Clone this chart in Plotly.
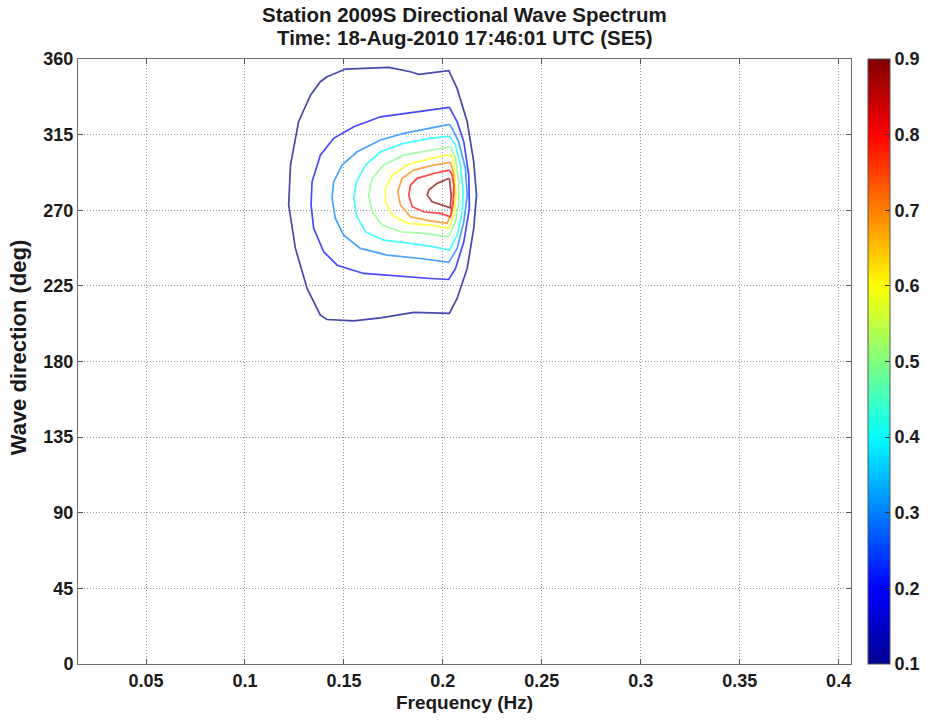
import plotly.graph_objects as go
from plotly.colors import sample_colorscale, unlabel_rgb

# ---- data (frequency in Hz, direction in deg) ----
levels = [0.1, 0.2, 0.3, 0.4, 0.5, 0.6, 0.7, 0.8, 0.9]

c1_f = [0.1415, 0.1508, 0.1727, 0.1836, 0.1878, 0.2030, 0.2072, 0.2123, 0.2156, 0.2170, 0.2156, 0.2123, 0.2072,
        0.2033, 0.1853, 0.1685, 0.1550, 0.1415, 0.1381, 0.1314, 0.1255, 0.1221, 0.1230, 0.1271, 0.1331, 0.1381]
c1_d = [349.4, 354.0, 355.0, 352.4, 350.9, 353.0, 342.5, 322.7, 298.8, 279.0, 259.2, 235.4, 217.5,
        208.6, 209.2, 206.0, 204.2, 205.0, 207.6, 223.5, 247.3, 273.1, 296.9, 322.7, 338.5, 346.5]

c2_f = [0.2033, 0.1937, 0.1802, 0.1685, 0.1550, 0.1448, 0.1381, 0.1339, 0.1334, 0.1347, 0.1398, 0.1466, 0.1600,
        0.1802, 0.1937, 0.2030, 0.2064, 0.2106, 0.2134, 0.2131, 0.2106, 0.2072]
c2_d = [331.2, 329.6, 327.7, 325.6, 319.7, 312.8, 302.8, 286.9, 273.1, 259.2, 245.3, 237.3, 232.4,
        230.4, 229.4, 228.8, 235.4, 251.2, 271.1, 290.9, 310.7, 322.7]

c3_f = [0.2033, 0.1921, 0.1802, 0.1685, 0.1567, 0.1491, 0.1448, 0.1440, 0.1457, 0.1499, 0.1583, 0.1718, 0.1887,
        0.2030, 0.2072, 0.2106, 0.2123, 0.2114, 0.2080, 0.2047]
c3_d = [321.1, 318.7, 315.7, 311.8, 304.8, 296.9, 286.9, 277.1, 265.1, 255.2, 247.3, 243.3, 241.3,
        239.0, 247.3, 263.1, 279.0, 294.9, 310.7, 318.7]

c4_f = [0.2033, 0.1937, 0.1802, 0.1685, 0.1609, 0.1563, 0.1550, 0.1563, 0.1609, 0.1701, 0.1836, 0.1954, 0.2033,
        0.2072, 0.2098, 0.2103, 0.2089, 0.2064]
c4_d = [314.1, 312.8, 309.8, 304.8, 296.9, 286.9, 277.1, 267.1, 257.2, 252.2, 250.3, 248.2, 246.3,
        255.2, 269.1, 281.0, 296.9, 308.8]

c5_f = [0.2038, 0.1937, 0.1802, 0.1701, 0.1643, 0.1625, 0.1643, 0.1693, 0.1786, 0.1903, 0.2030, 0.2064, 0.2080,
        0.2080, 0.2064]
c5_d = [307.8, 305.8, 302.8, 296.9, 289.0, 279.0, 269.1, 261.2, 257.2, 256.2, 254.2, 263.1, 275.0,
        286.9, 300.9]

c6_f = [0.2038, 0.1937, 0.1820, 0.1744, 0.1710, 0.1710, 0.1744, 0.1820, 0.1937, 0.2030, 0.2055, 0.2067, 0.2060,
        0.2052]
c6_d = [303.2, 300.9, 296.9, 290.9, 283.0, 275.0, 267.1, 262.2, 261.2, 259.2, 267.1, 279.0, 292.9, 300.9]

c7_f = [0.2038, 0.1954, 0.1853, 0.1794, 0.1772, 0.1786, 0.1836, 0.1937, 0.2022, 0.2047, 0.2059, 0.2052]
c7_d = [298.5, 296.9, 293.9, 289.0, 281.0, 273.1, 266.1, 263.7, 262.2, 269.1, 281.0, 292.9]

c8_f = [0.2033, 0.1954, 0.1870, 0.1836, 0.1828, 0.1845, 0.1903, 0.1988, 0.2038, 0.2052, 0.2055, 0.2047]
c8_d = [293.9, 291.9, 289.0, 285.0, 279.0, 272.1, 269.1, 268.1, 266.1, 275.0, 285.0, 290.9]

c9_f = [0.2033, 0.1971, 0.1929, 0.1921, 0.1946, 0.1996, 0.2038, 0.2042, 0.2038]
c9_d = [289.0, 286.0, 282.0, 279.0, 275.0, 273.1, 271.5, 279.0, 285.0]

x_ticks = [0.05, 0.1, 0.15, 0.2, 0.25, 0.3, 0.35, 0.4]
x_labels = ["0.05", "0.1", "0.15", "0.2", "0.25", "0.3", "0.35", "0.4"]
y_ticks = [0, 45, 90, 135, 180, 225, 270, 315, 360]
cb_ticks = [0.1, 0.2, 0.3, 0.4, 0.5, 0.6, 0.7, 0.8, 0.9]
cb_labels = ["0.1", "0.2", "0.3", "0.4", "0.5", "0.6", "0.7", "0.8", "0.9"]

title_1 = "Station 2009S Directional Wave Spectrum"
title_2 = "Time: 18-Aug-2010 17:46:01 UTC (SE5)"
x_title = "Frequency (Hz)"
y_title = "Wave direction (deg)"

contours_f = [c1_f, c2_f, c3_f, c4_f, c5_f, c6_f, c7_f, c8_f, c9_f]
contours_d = [c1_d, c2_d, c3_d, c4_d, c5_d, c6_d, c7_d, c8_d, c9_d]

# MATLAB-style jet colormap
jet = [[0.0, "rgb(0,0,143)"], [0.125, "rgb(0,0,255)"], [0.375, "rgb(0,255,255)"],
       [0.625, "rgb(255,255,0)"], [0.875, "rgb(255,0,0)"], [1.0, "rgb(128,0,0)"]]
cmin, cmax = 0.1, 0.9


def soften(rgb_str, w=0.28):
    r, g, b = unlabel_rgb(rgb_str)
    return "rgb(%d,%d,%d)" % tuple(round(c + (255 - c) * w) for c in (r, g, b))


FONT = "Liberation Sans, Arial, sans-serif"
TXT = "#1a1a1a"

fig = go.Figure()
for lvl, fx, dy in zip(levels, contours_f, contours_d):
    col = soften(sample_colorscale(jet, [(lvl - cmin) / (cmax - cmin)])[0])
    fig.add_trace(go.Scatter(
        x=list(fx) + [fx[0]], y=list(dy) + [dy[0]], mode="lines",
        line=dict(color=col, width=1.7), hoverinfo="skip", showlegend=False))

# colorbar carrier
fig.add_trace(go.Scatter(
    x=[None, None], y=[None, None], mode="markers", showlegend=False,
    marker=dict(color=[cmin, cmax], colorscale=jet, cmin=cmin, cmax=cmax, showscale=True,
                colorbar=dict(x=1.022, xanchor="left", xref="paper", y=0.5, yanchor="middle",
                              len=1.0, lenmode="fraction", thickness=22, thicknessmode="pixels",
                              xpad=0, ypad=0, outlinewidth=1, outlinecolor="#555555",
                              tickvals=cb_ticks, ticktext=cb_labels, ticks="inside", ticklen=5,
                              tickcolor="#333333",
                              tickfont=dict(family=FONT, size=18, color=TXT, weight="bold")))))

axis_common = dict(showline=True, linecolor="#6e6e6e", linewidth=1, mirror="ticks",
                   ticks="inside", ticklen=5, tickcolor="#555555", showgrid=True,
                   gridcolor="#9a9a9a", griddash="1px,2px", gridwidth=1, zeroline=False,
                   tickfont=dict(family=FONT, size=18, color=TXT, weight="bold"))

fig.update_layout(
    width=928, height=721,
    margin=dict(l=78, r=77, t=59, b=57, autoexpand=False),
    paper_bgcolor="white", plot_bgcolor="white",
    xaxis=dict(range=[0.015625, 0.40625], tickvals=x_ticks, ticktext=x_labels,
               title=dict(text=x_title, standoff=6,
                          font=dict(family=FONT, size=19, color=TXT, weight="bold")),
               **axis_common),
    yaxis=dict(range=[0, 360], tickvals=y_ticks, **axis_common),
    annotations=[
        dict(text=title_1, x=0.5, xref="paper", xanchor="center", y=1 + (59 - 15) / 605, yref="paper",
             yanchor="middle", showarrow=False, font=dict(family=FONT, size=20.5, color=TXT, weight="bold")),
        dict(text=title_2, x=0.5, xref="paper", xanchor="center", y=1 + (59 - 38) / 605, yref="paper",
             yanchor="middle", showarrow=False, font=dict(family=FONT, size=20.5, color=TXT, weight="bold")),
        dict(text=y_title, textangle=-90, x=(18 - 78) / 773, xref="paper", xanchor="center",
             y=(663.7 - 347) / 605, yref="paper", yanchor="middle", showarrow=False,
             font=dict(family=FONT, size=22, color=TXT, weight="bold")),
    ],
)

fig.write_html("out.html", config={"displayModeBar": False},
               post_script="document.body.style.margin='0';document.body.style.overflow='hidden';")
